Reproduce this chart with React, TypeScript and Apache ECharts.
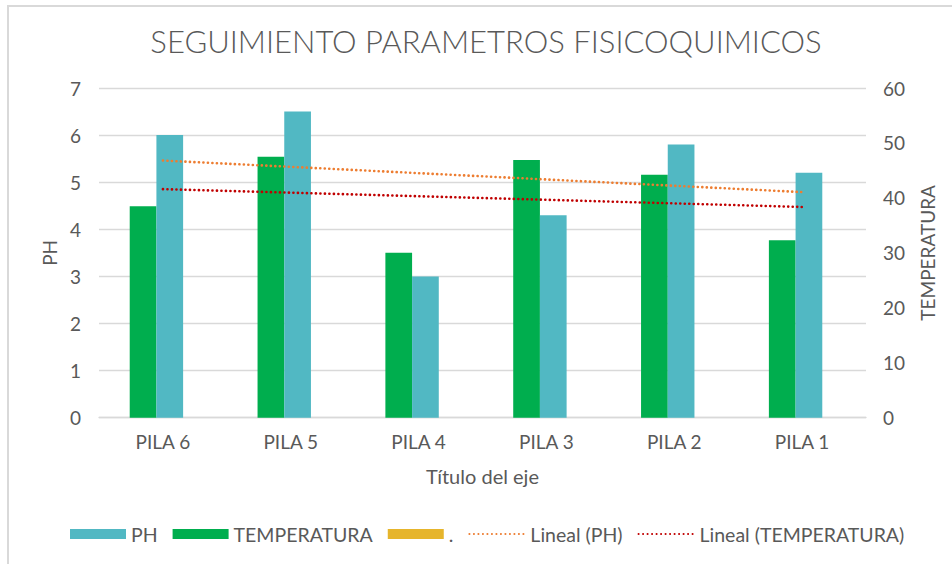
import React, { useEffect, useRef } from 'react';
import * as echarts from 'echarts';

const categories = ['PILA 6', 'PILA 5', 'PILA 4', 'PILA 3', 'PILA 2', 'PILA 1'];
const phValues = [6.0, 6.5, 3.0, 4.3, 5.8, 5.2];
const tempValues = [38.5, 47.5, 30, 46.9, 44.2, 32.3];
const dotValues: (number | null)[] = [null, null, null, null, null, null];
// trend line end points (first and last category)
const phTrend = [5.46, 4.79];
const tempTrend = [41.6, 38.35];

const FONT = 'Lato, sans-serif';
const GRAY = '#595959';

function trendData(ends: number[]) {
  return categories.map((_, i) =>
    i === 0 ? ends[0] : i === categories.length - 1 ? ends[1] : '-'
  );
}

export default function App() {
  const ref = useRef<HTMLDivElement>(null);
  useEffect(() => {
    const chart = echarts.init(ref.current!, null, { renderer: 'svg' });
    chart.setOption({
      animation: false,
      backgroundColor: '#ffffff',
      textStyle: { fontFamily: FONT },
      title: {
        text: 'SEGUIMIENTO PARAMETROS FISICOQUIMICOS',
        left: 486,
        textAlign: 'center',
        top: 25,
        padding: 0,
        textStyle: { fontFamily: FONT, fontSize: 31, fontWeight: 300, color: GRAY },
      },
      graphic: [
        {
          type: 'rect',
          shape: { x: 8, y: 6, width: 1000, height: 700 },
          style: { fill: 'none', stroke: '#d9d9d9', lineWidth: 2 },
          silent: true,
        },
      ],
      legend: {
        left: 70,
        top: 524,
        padding: 0,
        itemWidth: 56,
        itemHeight: 10,
        itemGap: 15,
        textStyle: { fontFamily: FONT, fontSize: 19.5, color: GRAY },
        data: [
          { name: 'PH', icon: 'rect' },
          { name: 'TEMPERATURA', icon: 'rect' },
          { name: '.', icon: 'rect' },
          { name: 'Lineal (PH)', itemStyle: { opacity: 0 } },
          { name: 'Lineal (TEMPERATURA)', itemStyle: { opacity: 0 } },
        ],
      },
      grid: { left: 99, right: 86, top: 88, bottom: 146.3, containLabel: false },
      xAxis: {
        type: 'category',
        data: categories,
        axisLine: { show: true, lineStyle: { color: '#d9d9d9', width: 1.3 } },
        axisTick: { show: false },
        axisLabel: { fontFamily: FONT, fontSize: 19, color: GRAY, margin: 14 },
        name: 'Título del eje',
        nameLocation: 'middle',
        nameGap: 48,
        nameTextStyle: { fontFamily: FONT, fontSize: 20, color: GRAY },
      },
      yAxis: [
        {
          type: 'value',
          min: 0,
          max: 7,
          interval: 1,
          axisLine: { show: false },
          axisTick: { show: false },
          axisLabel: { fontFamily: FONT, fontSize: 19, color: GRAY, margin: 18 },
          splitLine: { lineStyle: { color: '#d9d9d9', width: 1.3 } },
          name: 'PH',
          nameLocation: 'middle',
          nameRotate: 90,
          nameGap: 40,
          nameTextStyle: { fontFamily: FONT, fontSize: 19, color: GRAY },
        },
        {
          type: 'value',
          min: 0,
          max: 60,
          interval: 10,
          position: 'right',
          axisLine: { show: false },
          axisTick: { show: false },
          axisLabel: { fontFamily: FONT, fontSize: 19, color: GRAY, margin: 17 },
          splitLine: { show: false },
          name: 'TEMPERATURA',
          nameLocation: 'middle',
          nameRotate: 90,
          nameGap: 52,
          nameTextStyle: { fontFamily: FONT, fontSize: 19, color: GRAY },
        },
      ],
      series: [
        {
          name: 'TEMPERATURA',
          type: 'bar',
          yAxisIndex: 1,
          data: tempValues,
          barWidth: 26.7,
          barGap: 0,
          itemStyle: { color: '#00AE4E' },
        },
        {
          name: 'PH',
          type: 'bar',
          yAxisIndex: 0,
          data: phValues,
          barWidth: 26.7,
          barGap: 0,
          itemStyle: { color: '#51B8C3' },
        },
        {
          name: '.',
          type: 'bar',
          yAxisIndex: 0,
          data: dotValues,
          barWidth: 13,
          barGap: 0,
          itemStyle: { color: '#E6B52C' },
        },
        {
          name: 'Lineal (PH)',
          type: 'line',
          yAxisIndex: 0,
          data: trendData(phTrend),
          connectNulls: true,
          symbol: 'none',
          lineStyle: { color: '#ED7D31', width: 2.6, type: [0.1, 4.4], cap: 'round' },
          itemStyle: { color: 'rgba(0,0,0,0)' },
          z: 5,
        },
        {
          name: 'Lineal (TEMPERATURA)',
          type: 'line',
          yAxisIndex: 1,
          data: trendData(tempTrend),
          connectNulls: true,
          symbol: 'none',
          lineStyle: { color: '#C00000', width: 2.6, type: [0.1, 4.4], cap: 'round' },
          itemStyle: { color: 'rgba(0,0,0,0)' },
          z: 5,
        },
      ],
    });
    return () => chart.dispose();
  }, []);
  return (
    <div
      ref={ref}
      style={{ position: 'fixed', left: 0, top: 0, width: 952, height: 564, background: '#fff' }}
    />
  );
}
